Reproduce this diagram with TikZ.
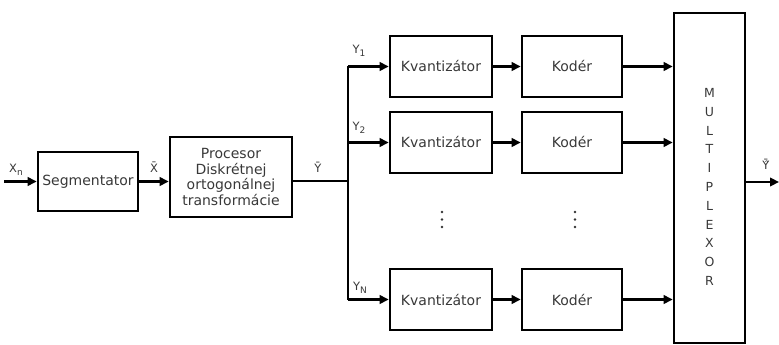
\documentclass[tikz,border=0pt]{standalone}
\usepackage{fontspec}
\setmainfont{DejaVu Sans}
\usetikzlibrary{arrows.meta}
\newcommand\lowsub[1]{\raisebox{-0.45ex}{\fontsize{9}{9}\selectfont #1}}
\begin{document}
\begin{tikzpicture}[x=1pt,y=-1pt,
  block/.style={draw,line width=2.6pt,inner sep=0pt,align=center,
    text=black!78,font=\fontsize{14}{15.5}\selectfont},
  wire/.style={line width=2.4pt},
  arr/.style={wire,-{Triangle[length=9pt,width=8.5pt]}},
  lbl/.style={text=black!78,font=\fontsize{11.5}{12}\selectfont,inner sep=0pt},
  dot/.style={fill=black!80}]
\useasboundingbox (0,0) rectangle (779,345);

% processing blocks
\node[block,minimum width=100pt,minimum height=59pt] (seg) at (88,181.5) {Segmentator};
\node[block,minimum width=122pt,minimum height=80pt] (proc) at (231,177) {Procesor\\Diskrétnej\\ortogonálnej\\transformácie};

\node[block,minimum width=102pt,minimum height=61pt] (q1) at (441,66.5) {Kvantizátor};
\node[block,minimum width=102pt,minimum height=61pt] (q2) at (441,142.5) {Kvantizátor};
\node[block,minimum width=102pt,minimum height=61pt] (qN) at (441,299.5) {Kvantizátor};

\node[block,minimum width=100pt,minimum height=61pt] (k1) at (572,66.5) {Kodér};
\node[block,minimum width=100pt,minimum height=61pt] (k2) at (572,142.5) {Kodér};
\node[block,minimum width=100pt,minimum height=61pt] (kN) at (572,299.5) {Kodér};

% multiplexer: tall box with its name written letter by letter;
% the blank strip on top pushes the letters a little below the middle
\node[block,minimum width=71pt,minimum height=330pt,
  font=\fontsize{12.5}{18.8}\selectfont] (mux) at (709.5,178)
  {\parbox{20pt}{\centering\vspace*{18pt}M\\U\\L\\T\\I\\P\\L\\E\\X\\O\\R}};

% free ends and branch point
\coordinate (in) at (4,181.5);
\coordinate (bus) at (348,181);
\coordinate (out) at (779,182);

% connectors
\draw[arr] (in) -- (seg.west);
\draw[arr] (seg.east) -- (proc.west |- seg.east);
\draw[wire] (proc.east |- bus) -- (bus);
\draw[wire] (bus |- q1) -- (bus |- qN);
\draw[arr] (bus |- q1) -- (q1.west);
\draw[arr] (bus |- q2) -- (q2.west);
\draw[arr] (bus |- qN) -- (qN.west);
\draw[arr] (q1.east) -- (k1.west);
\draw[arr] (q2.east) -- (k2.west);
\draw[arr] (qN.east) -- (kN.west);
\draw[arr] (k1.east) -- (k1.east -| mux.west);
\draw[arr] (k2.east) -- (k2.east -| mux.west);
\draw[arr] (kN.east) -- (kN.east -| mux.west);
\draw[arr] (mux.east |- out) -- (out);

% signal labels
\node[lbl] (lxn) at (16,170) {X\lowsub{n}};
\node[lbl] (lxbar) at (154,167) {\={X}};
\node[lbl] (lybar) at (318,167) {\={Y}};
\node[lbl] (ly1) at (359,51) {Y\lowsub{1}};
\node[lbl] (ly2) at (359,128) {Y\lowsub{2}};
\node[lbl] (lyN) at (360,288) {Y\lowsub{N}};
\node[lbl] (lyhat) at (766,164) {\^{\={Y}}};

% vertical ellipses between rows
\foreach \x in {442,575}{
  \foreach \y in {212,219.5,227}{
    \fill[dot] (\x,\y) circle (1.4pt);
  }
}
\end{tikzpicture}
\end{document}
